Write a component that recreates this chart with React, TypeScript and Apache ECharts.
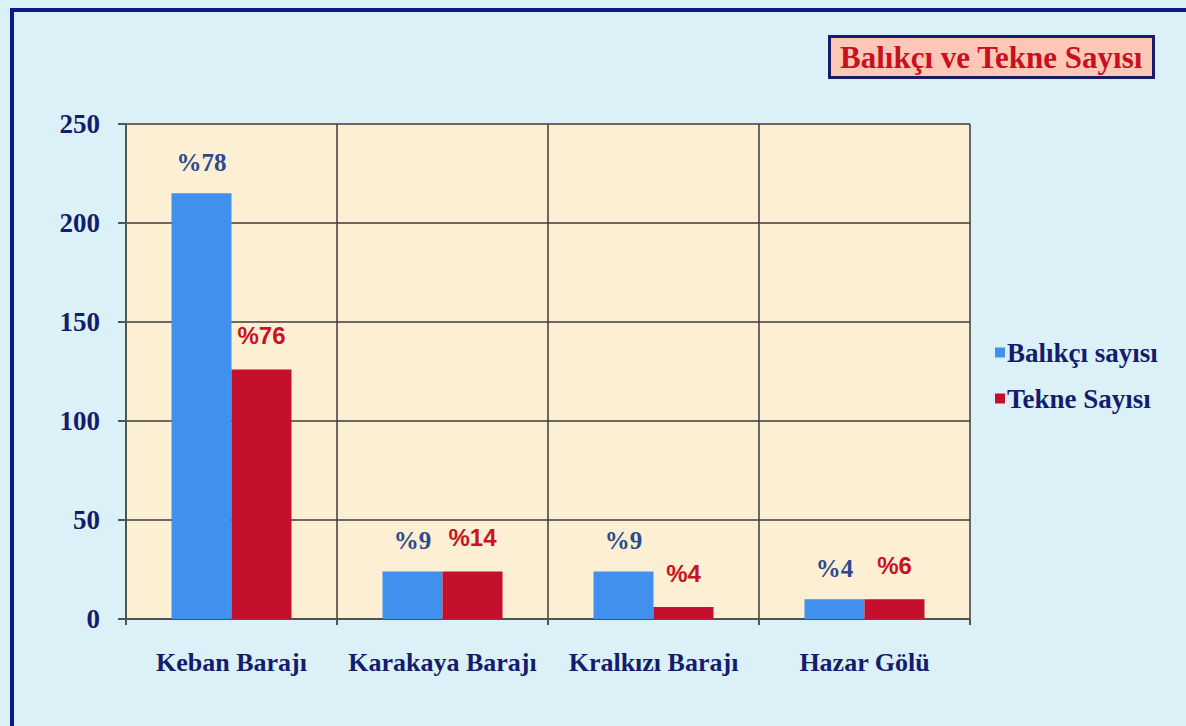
import React, { useEffect, useRef } from "react";
import * as echarts from "echarts";

const categories = ["Keban Barajı", "Karakaya Barajı", "Kralkızı Barajı", "Hazar Gölü"];
const fishermen = [215, 24, 24, 10];
const boats = [126, 24, 6, 10];
const fishermenLabels = ["%78", "%9", "%9", "%4"];
const boatLabels = ["%76", "%14", "%4", "%6"];
const seriesNames = ["Balıkçı sayısı", "Tekne Sayısı"];
const titleText = "Balıkçı ve Tekne Sayısı";

export default function App() {
  const ref = useRef<HTMLDivElement>(null);
  useEffect(() => {
    if (!ref.current) return;
    const chart = echarts.init(ref.current, null, { renderer: "svg" });
    const serif = "'Liberation Serif', 'DejaVu Serif', serif";
    const navy = "#141c6e";
    chart.setOption({
      animation: false,
      backgroundColor: "#dcf0f8",
      title: {
        text: titleText,
        left: 829,
        top: 36,
        backgroundColor: "#ffc7b8",
        borderColor: "#1a1a6a",
        borderWidth: 3,
        padding: [6, 11, 5, 11],
        textStyle: { color: "#c8101e", fontFamily: serif, fontWeight: "bold", fontSize: 31 },
      },
      legend: {
        orient: "vertical",
        left: 990,
        top: 334,
        itemWidth: 10,
        itemHeight: 10,
        itemGap: 19,
        icon: "rect",
        data: seriesNames,
        textStyle: { color: navy, fontFamily: serif, fontWeight: "bold", fontSize: 27, padding: [0, 0, 0, -3] },
      },
      graphic: [
        {
          type: "rect",
          shape: { x: 12, y: 10, width: 1300, height: 900 },
          style: { fill: "none", stroke: "#0a1a8c", lineWidth: 4 },
          silent: true,
        },
      ],
      grid: {
        left: 126,
        right: 216,
        top: 124,
        bottom: 107,
        show: true,
        backgroundColor: "#fcefd3",
        borderWidth: 0,
      },
      xAxis: {
        type: "category",
        data: categories,
        axisLine: { lineStyle: { color: "#4d5550", width: 2 } },
        axisTick: { show: true, interval: 0, length: 6, lineStyle: { color: "#4d5550", width: 2 } },
        splitLine: { show: true, interval: 0, lineStyle: { color: "#3d3d3d", width: 1.5 } },
        axisLabel: { interval: 0, color: navy, fontFamily: serif, fontWeight: "bold", fontSize: 26, margin: 30, hideOverlap: false },
      },
      yAxis: {
        type: "value",
        min: 0,
        max: 250,
        interval: 50,
        axisLine: { show: true, lineStyle: { color: "#4d5550", width: 2 } },
        axisTick: { show: true, length: 8, lineStyle: { color: "#4d5550", width: 2 } },
        splitLine: { show: true, lineStyle: { color: "#3d3d3d", width: 1.5 } },
        axisLabel: { color: navy, fontFamily: serif, fontWeight: "bold", fontSize: 27, margin: 26 },
      },
      series: [
        {
          name: seriesNames[0],
          type: "bar",
          data: fishermen,
          barWidth: 60,
          barGap: "0%",
          itemStyle: { color: "#4290ee" },
          label: {
            show: true,
            position: "top",
            distance: 18,
            formatter: (p: any) => fishermenLabels[p.dataIndex],
            color: "#2c4a8c",
            fontFamily: serif,
            fontWeight: "bold",
            fontSize: 25,
          },
        },
        {
          name: seriesNames[1],
          type: "bar",
          data: boats,
          barWidth: 60,
          barGap: "0%",
          itemStyle: { color: "#c4102c" },
          label: {
            show: true,
            position: "top",
            distance: 22,
            formatter: (p: any) => boatLabels[p.dataIndex],
            color: "#c8141e",
            fontFamily: "'Liberation Sans', Arial, sans-serif",
            fontWeight: "bold",
            fontSize: 24,
          },
        },
      ],
    });
    return () => chart.dispose();
  }, []);
  return (
    <div
      ref={ref}
      style={{ position: "fixed", left: 0, top: 0, width: 1186, height: 726 }}
    />
  );
}
